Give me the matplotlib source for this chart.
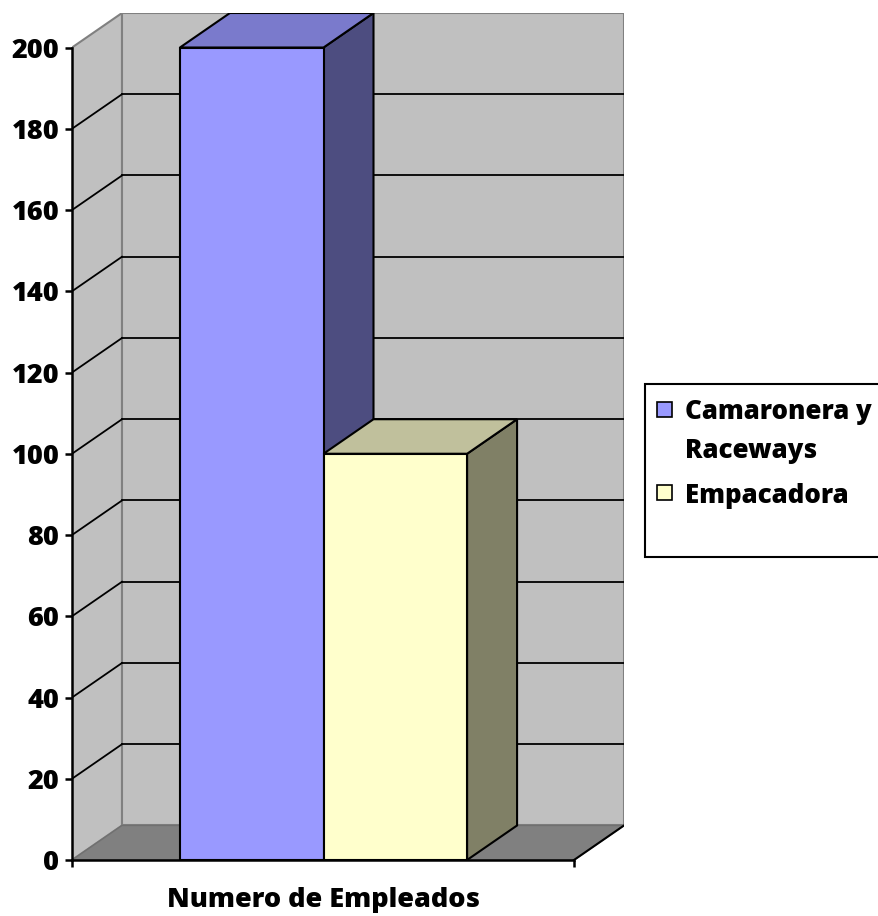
import matplotlib.pyplot as plt
from matplotlib.patches import Polygon, Rectangle
import numpy as np

plt.rcParams['font.family'] = ['Open Sans', 'DejaVu Sans']
plt.rcParams['font.weight'] = 'bold'

# datos
categoria = 'Numero de Empleados'
series = ['Camaronera y\nRaceways', 'Empacadora']
valores = [200, 100]
colores_frente = ['#9999FF', '#FFFFCC']
colores_arriba = ['#7A7ACC', '#C0C09C']
colores_lado = ['#4D4D80', '#808066']
yticks = np.arange(0, 201, 20)

# profundidad del efecto 3D
dx = 0.0996
dy = 8.5
ymax = 200
ancho = 0.286
x0 = 0.215

fs = 19.5
fs_ley = 18.6
fw = 'heavy'

fig = plt.figure(figsize=(8.79, 9.16), dpi=100)
ax = fig.add_axes([72/879, 1-860/916, (624-72)/879, (860-13)/916])
ax.set_xlim(0, 1+dx)
ax.set_ylim(0, ymax+dy)

# paredes
pared_izq = Polygon([(0, 0), (dx, dy), (dx, ymax+dy), (0, ymax)], closed=True,
                    facecolor='#C0C0C0', edgecolor='#808080', lw=1.5, zorder=1)
ax.add_patch(pared_izq)
pared_fondo = Rectangle((dx, dy), 1, ymax, facecolor='#C0C0C0', edgecolor='#808080', lw=1.5, zorder=1)
ax.add_patch(pared_fondo)
piso = Polygon([(0, 0), (1, 0), (1+dx, dy), (dx, dy)], closed=True,
               facecolor='#808080', edgecolor='#707070', lw=1, zorder=2)
ax.add_patch(piso)
ax.plot([1, 1+dx], [0, dy], color='black', lw=1.5, zorder=3)

# lineas de cuadricula
for v in yticks[1:-1]:
    ax.plot([dx, 1+dx], [v+dy, v+dy], color='black', lw=1.3, zorder=2)
    ax.plot([0, dx], [v, v+dy], color='black', lw=1.3, zorder=2)

# barras 3D
for i, v in enumerate(valores):
    xa = x0 + i*ancho
    xb = xa + ancho
    frente = Rectangle((xa, 0), ancho, v, facecolor=colores_frente[i], edgecolor='black', lw=1.5, zorder=4+i)
    arriba = Polygon([(xa, v), (xb, v), (xb+dx, v+dy), (xa+dx, v+dy)], closed=True,
                     facecolor=colores_arriba[i], edgecolor='black', lw=1.5, zorder=4+i)
    lado = Polygon([(xb, 0), (xb+dx, dy), (xb+dx, v+dy), (xb, v)], closed=True,
                   facecolor=colores_lado[i], edgecolor='black', lw=1.5, zorder=4+i)
    ax.add_patch(lado)
    ax.add_patch(arriba)
    ax.add_patch(frente)

# ejes
for s in ['top', 'right']:
    ax.spines[s].set_visible(False)
ax.spines['left'].set_bounds(0, ymax)
ax.spines['bottom'].set_bounds(0, 1)
for s in ['left', 'bottom']:
    ax.spines[s].set_linewidth(1.8)
    ax.spines[s].set_zorder(10)
ax.set_yticks(yticks)
ax.set_yticklabels([str(t) for t in yticks], fontsize=fs, fontweight=fw)
ax.set_xticks([0, 1])
ax.set_xticklabels(['', ''])
ax.tick_params(axis='both', direction='out', length=5, width=1.8, pad=4)
ax.set_xlabel(categoria, fontsize=fs, fontweight=fw)
ax.xaxis.set_label_coords(0.5/(1+dx), -0.032)

# leyenda
fig.patches.append(Rectangle((645/879, 1-557/916), 0.4, (557-384)/916, transform=fig.transFigure,
                             facecolor='white', edgecolor='black', lw=1.5, zorder=0))
ly = [409, 492]
for i, s in enumerate(series):
    fig.patches.append(Rectangle((657/879, 1-(ly[i]+8)/916), 15/879, 15/916, transform=fig.transFigure,
                                 facecolor=colores_frente[i], edgecolor='black', lw=1.2))
fig.text(685/879, 1-412/916, 'Camaronera y', fontsize=fs_ley, fontweight=fw, va='center')
fig.text(685/879, 1-451/916, 'Raceways', fontsize=fs_ley, fontweight=fw, va='center')
fig.text(685/879, 1-496/916, 'Empacadora', fontsize=fs_ley, fontweight=fw, va='center')

plt.savefig('out.png', dpi=100)
